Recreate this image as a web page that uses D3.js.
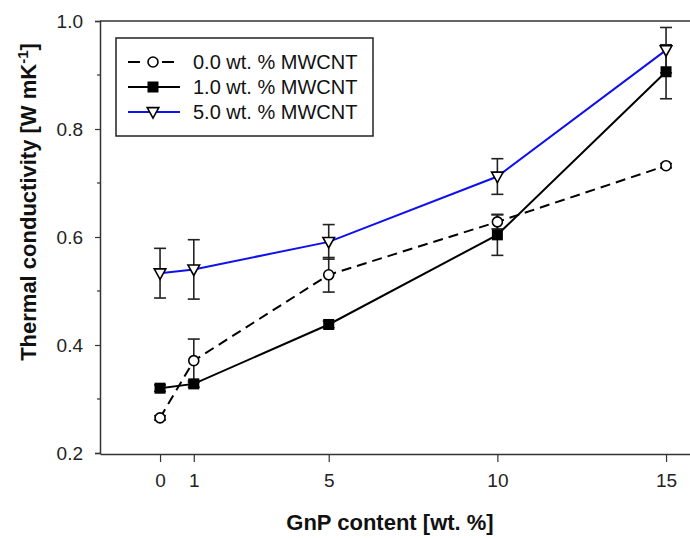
<!DOCTYPE html>
<html>
<head>
<meta charset="utf-8">
<script src="https://cdn.jsdelivr.net/npm/d3@7"></script>
<style>
  body { margin: 0; background: #fff; }
  svg { font-family: Arial, "Liberation Sans", sans-serif; }
</style>
</head>
<body>
<script>
const width = 690;
const height = 538;

// data
const gnp = [0, 1, 5, 10, 15];
const tc00 = [0.265, 0.371, 0.530, 0.628, 0.732];
const err00 = [0.004, 0.040, 0.032, 0.013, 0.004];
const tc10 = [0.320, 0.328, 0.438, 0.604, 0.906];
const err10 = [0.006, 0.006, 0.006, 0.038, 0.050];
const tc50 = [0.533, 0.540, 0.591, 0.712, 0.946];
const err50 = [0.046, 0.055, 0.032, 0.033, 0.042];
const seriesNames = ["0.0 wt. % MWCNT", "1.0 wt. % MWCNT", "5.0 wt. % MWCNT"];
const xTicks = [0, 1, 5, 10, 15];
const yTicks = [0.2, 0.4, 0.6, 0.8, 1.0];
const yMinor = [0.3, 0.5, 0.7, 0.9];

const series = [
  {name: seriesNames[0], y: tc00, err: err00, color: "#000", dash: "10,6", marker: "circle"},
  {name: seriesNames[1], y: tc10, err: err10, color: "#000", dash: null, marker: "square"},
  {name: seriesNames[2], y: tc50, err: err50, color: "#1010ee", dash: null, marker: "triangle"}
];

const svg = d3.select("body").append("svg")
  .attr("width", width)
  .attr("height", height);

// plot area runs off the right edge of the picture
const x = d3.scaleLinear().domain([-1.78, 15.71]).range([100, 690]);
const y = d3.scaleLinear().domain([0.2, 1.0]).range([453, 21]);

// top of frame
svg.append("line")
  .attr("x1", 100).attr("x2", width)
  .attr("y1", y(1.0)).attr("y2", y(1.0))
  .attr("stroke", "#333").attr("stroke-width", 1.5);

// y axis
const yAxis = svg.append("g")
  .attr("transform", "translate(100,0)")
  .call(d3.axisLeft(y).tickValues(yTicks).tickFormat(d3.format(".1f")).tickSize(5).tickPadding(12));
yAxis.select(".domain").attr("stroke", "#333").attr("stroke-width", 1.5);
yAxis.selectAll(".tick line").attr("stroke", "#333").attr("stroke-width", 1.2);
yAxis.selectAll(".tick text").attr("font-size", 19).attr("fill", "#222")
  .attr("font-family", "Arial, 'Liberation Sans', sans-serif");

svg.append("g").selectAll("line")
  .data(yMinor)
  .enter().append("line")
  .attr("x1", 97).attr("x2", 100)
  .attr("y1", d => y(d)).attr("y2", d => y(d))
  .attr("stroke", "#333").attr("stroke-width", 1.2);

// x axis
const xAxis = svg.append("g")
  .attr("transform", `translate(0,${y(0.2) + 1})`)
  .call(d3.axisBottom(x).tickValues(xTicks).tickSize(8).tickSizeOuter(0).tickPadding(12));
xAxis.select(".domain").attr("stroke", "#333").attr("stroke-width", 1.5);
xAxis.selectAll(".tick line").attr("stroke", "#333").attr("stroke-width", 1.2);
xAxis.selectAll(".tick text").attr("font-size", 19).attr("fill", "#222")
  .attr("font-family", "Arial, 'Liberation Sans', sans-serif");

// axis titles
svg.append("text")
  .attr("x", 390).attr("y", 530)
  .attr("text-anchor", "middle")
  .attr("font-size", 22).attr("font-weight", "bold").attr("fill", "#111")
  .text("GnP content [wt. %]");

const yl = svg.append("text")
  .attr("transform", "translate(36,202) rotate(-90)")
  .attr("text-anchor", "middle")
  .attr("font-size", 22).attr("font-weight", "bold").attr("fill", "#111");
yl.append("tspan").text("Thermal conductivity [W mK");
yl.append("tspan").attr("dy", -8).attr("font-size", 15).text("-1");
yl.append("tspan").attr("dy", 8).text("]");

// markers
function drawMarker(g, type, cx, cy) {
  if (type === "circle") {
    g.append("circle").attr("cx", cx).attr("cy", cy).attr("r", 5)
      .attr("fill", "#fff").attr("stroke", "#000").attr("stroke-width", 1.6);
  } else if (type === "square") {
    g.append("rect").attr("x", cx - 5.5).attr("y", cy - 5.5).attr("width", 11).attr("height", 11)
      .attr("fill", "#000");
  } else {
    const s = 5.8;
    g.append("path")
      .attr("d", `M${cx - s},${cy - s * 0.75}L${cx + s},${cy - s * 0.75}L${cx},${cy + s * 1.05}Z`)
      .attr("fill", "#fff").attr("stroke", "#000").attr("stroke-width", 1.6);
  }
}

const line = d3.line().x(d => x(d[0])).y(d => y(d[1]));

const plot = svg.append("g");

// lines
series.forEach(s => {
  plot.append("path")
    .datum(gnp.map((g, i) => [g, s.y[i]]))
    .attr("d", line)
    .attr("fill", "none")
    .attr("stroke", s.color)
    .attr("stroke-width", 2)
    .attr("stroke-dasharray", s.dash);
});

// error bars
series.forEach(s => {
  gnp.forEach((g, i) => {
    const cx = x(g);
    const top = y(s.y[i] + s.err[i]);
    const bot = y(s.y[i] - s.err[i]);
    const eg = plot.append("g").attr("stroke", "#222").attr("stroke-width", 1.6);
    eg.append("line").attr("x1", cx).attr("x2", cx).attr("y1", top).attr("y2", bot);
    eg.append("line").attr("x1", cx - 6).attr("x2", cx + 6).attr("y1", top).attr("y2", top);
    eg.append("line").attr("x1", cx - 6).attr("x2", cx + 6).attr("y1", bot).attr("y2", bot);
  });
});

series.forEach(s => {
  gnp.forEach((g, i) => drawMarker(plot, s.marker, x(g), y(s.y[i])));
});

// legend
const legend = svg.append("g");
legend.append("rect")
  .attr("x", 116).attr("y", 38).attr("width", 257).attr("height", 98)
  .attr("fill", "#fff").attr("stroke", "#222").attr("stroke-width", 1.5);

series.forEach((s, i) => {
  const ly = 62 + i * 25;
  if (s.dash) {
    legend.append("line").attr("x1", 128).attr("x2", 140).attr("y1", ly).attr("y2", ly)
      .attr("stroke", s.color).attr("stroke-width", 2);
    legend.append("line").attr("x1", 162).attr("x2", 174).attr("y1", ly).attr("y2", ly)
      .attr("stroke", s.color).attr("stroke-width", 2);
  } else {
    legend.append("line").attr("x1", 128).attr("x2", 180).attr("y1", ly).attr("y2", ly)
      .attr("stroke", s.color).attr("stroke-width", 2);
  }
  drawMarker(legend, s.marker, 153, ly);
  legend.append("text")
    .attr("x", 193).attr("y", ly + 7)
    .attr("font-size", 20).attr("fill", "#111")
    .text(s.name);
});
</script>
</body>
</html>
